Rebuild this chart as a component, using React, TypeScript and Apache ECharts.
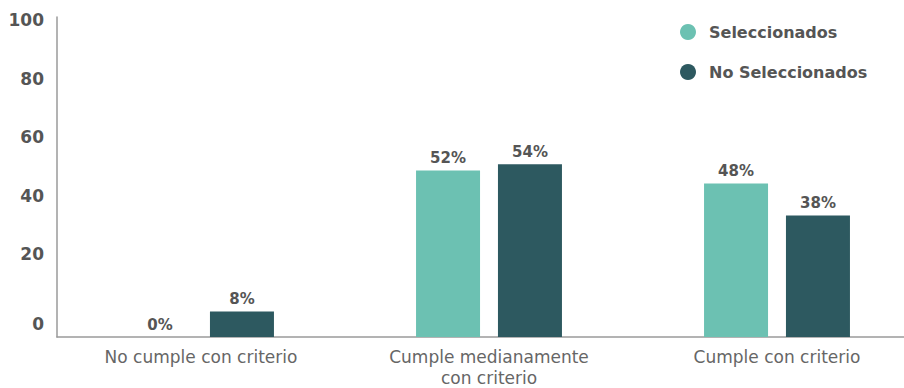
import React, { useEffect, useRef } from "react";
import * as echarts from "echarts";

const categories = ["No cumple con criterio", "Cumple medianamente\ncon criterio", "Cumple con criterio"];
const seleccionados = [0, 52, 48];
const noSeleccionados = [8, 54, 38];
const seriesNames = ["Seleccionados", "No Seleccionados"];
const yTicks = [0, 20, 40, 60, 80, 100];

const FONT = "DejaVu Sans";

export default function App() {
  const ref = useRef<HTMLDivElement>(null);
  useEffect(() => {
    if (!ref.current) return;
    const chart = echarts.init(ref.current, undefined, { renderer: "svg" });
    const labelStyle = {
      show: true,
      position: "top" as const,
      distance: 5,
      formatter: "{c}%",
      fontFamily: FONT,
      fontWeight: "bold" as const,
      fontSize: 15,
      color: "#555555",
    };
    chart.setOption({
      animation: false,
      backgroundColor: "#ffffff",
      legend: {
        orient: "vertical",
        left: 675,
        top: 19,
        icon: "circle",
        itemWidth: 16,
        itemHeight: 16,
        itemGap: 24,
        data: seriesNames,
        textStyle: {
          fontFamily: FONT,
          fontWeight: "bold",
          fontSize: 16,
          color: "#555555",
          lineHeight: 16,
          padding: [0, 0, 0, 8],
        },
      },
      grid: [
        { left: 57, right: 3, top: 17, bottom: 51 },
        { left: 57, right: 3, top: 20, bottom: 75.5 },
      ],
      xAxis: [
        {
          type: "category",
          gridIndex: 0,
          data: categories,
          axisLine: { lineStyle: { color: "#9a9a9a", width: 1.5 } },
          axisTick: { show: false },
          axisLabel: {
            fontFamily: FONT,
            fontSize: 17,
            color: "#666666",
            margin: 9,
            lineHeight: 21,
            interval: 0,
          },
        },
        {
          type: "category",
          gridIndex: 1,
          data: categories,
          show: false,
        },
      ],
      yAxis: [
        {
          type: "value",
          gridIndex: 0,
          min: 0,
          max: 100,
          interval: 20,
          axisLine: { show: true, lineStyle: { color: "#9a9a9a", width: 1.5 } },
          axisTick: { show: false },
          axisLabel: { show: false },
          splitLine: { show: false },
        },
        {
          type: "value",
          gridIndex: 1,
          min: 0,
          max: 100,
          interval: 20,
          axisLine: { show: false },
          axisTick: { show: false },
          splitLine: { show: false },
          axisLabel: {
            margin: 13,
            fontFamily: FONT,
            fontWeight: "bold",
            fontSize: 17,
            color: "#555555",
            formatter: (v: number) => (yTicks.includes(v) ? (v === 0 ? "{z|0}" : String(v)) : ""),
            rich: {
              z: {
                padding: [23, 0, 0, 0],
                fontFamily: FONT,
                fontWeight: "bold",
                fontSize: 17,
                color: "#555555",
              },
            },
          },
        },
      ],
      series: [
        {
          name: seriesNames[0],
          type: "bar",
          xAxisIndex: 0,
          yAxisIndex: 0,
          data: seleccionados,
          barWidth: 64,
          barGap: "28%",
          itemStyle: { color: "#6CC1B2" },
          label: labelStyle,
        },
        {
          name: seriesNames[1],
          type: "bar",
          xAxisIndex: 0,
          yAxisIndex: 0,
          data: noSeleccionados,
          barWidth: 64,
          barGap: "28%",
          itemStyle: { color: "#2D5960" },
          label: labelStyle,
        },
      ],
    });
    return () => chart.dispose();
  }, []);
  return (
    <div
      style={{ position: "fixed", left: 0, top: 0, width: 904, height: 388, overflow: "hidden", background: "#fff" }}
    >
      <div ref={ref} style={{ width: 924, height: 388 }} />
    </div>
  );
}
